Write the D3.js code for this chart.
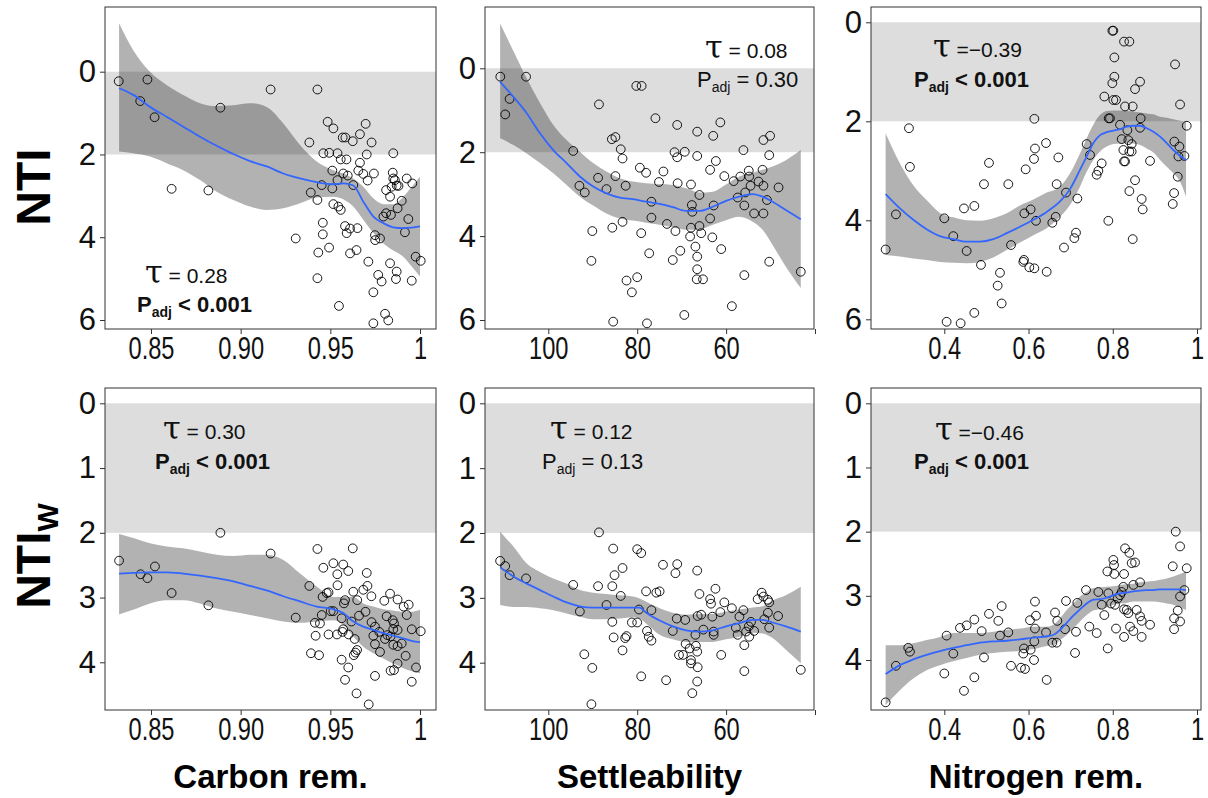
<!DOCTYPE html>
<html><head><meta charset="utf-8">
<script src="https://cdn.jsdelivr.net/npm/d3@7"></script>
<style>
body{margin:0;background:#fff;}
svg text{font-family:"Liberation Sans",Arial,sans-serif;}
</style></head><body>
<svg id="chart" width="1208" height="798"></svg>
<script>
// ---------- tick values / labels ----------
const carbonTicks = [0.85, 0.90, 0.95, 1];
const carbonTickLabels = ["0.85", "0.90", "0.95", "1"];
const settleTicks = [100, 80, 60, 40];
const settleTickLabels = ["100", "80", "60", ""];
const nitroTicks = [0.4, 0.6, 0.8, 1];
const nitroTickLabels = ["0.4", "0.6", "0.8", "1"];
const ntiTicks = [0, 2, 4, 6];
const ntiwTicks = [0, 1, 2, 3, 4];
const xTitles = ["Carbon rem.", "Settleability", "Nitrogen rem."];
const tauLabels = ["0.28", "0.08", "\u22120.39", "0.30", "0.12", "\u22120.46"];
const pLabels = ["< 0.001", "= 0.30", "< 0.001", "< 0.001", "= 0.13", "< 0.001"];
const pBold = [true, false, true, true, false, true];
const bandRange = [0, 2];

// ---------- Panel 1: NTI vs Carbon removal ----------
const carbonNTI_x = [0.832,0.848,0.844,0.852,0.8615,0.882,0.8887,0.9167,0.9428,0.9307,
0.9383,0.9485,0.9517,0.9461,0.9494,0.954,0.9558,0.959,0.9569,0.9584,
0.9625,0.9665,0.9697,0.973,0.9703,0.9665,0.9656,0.9684,0.9743,0.9708,
0.9511,0.954,0.9572,0.9597,0.9628,0.9452,0.9511,0.9391,0.9428,0.9517,
0.9545,0.9558,0.9458,0.9458,0.9582,0.961,0.9591,0.9651,0.9493,0.9433,
0.961,0.9646,0.9428,0.9548,0.9712,0.9749,0.9777,0.975,0.974,0.9767,
0.9786,0.9833,0.987,0.9866,0.9954,0.974,0.9805,0.9823,0.9796,0.9811,
0.9838,0.9851,0.9848,0.9851,0.9811,0.9842,0.987,0.988,0.9833,0.9898,
0.9875,0.9926,0.9957,0.9935,0.9916,0.9976,1.0004,0.986];
const carbonNTI_y = [0.23,0.19,0.71,1.10,2.83,2.87,0.87,0.43,0.43,4.03,
1.71,1.21,1.37,1.97,1.96,1.97,2.12,2.12,1.59,1.59,
1.68,1.51,1.26,1.71,2.0,2.2,2.39,2.47,2.46,2.63,
2.39,2.62,2.46,2.51,2.74,2.74,2.82,2.92,3.1,3.2,
3.26,3.34,3.65,3.93,3.73,3.79,3.9,3.78,4.25,4.37,
4.39,4.31,4.99,5.66,4.59,3.95,4.03,4.07,5.33,4.91,
5.07,4.63,4.83,5.01,5.05,6.08,5.85,6.01,3.5,3.42,
3.46,1.97,2.44,2.58,2.86,2.78,2.75,2.76,3.02,3.12,
3.3,2.58,2.7,3.56,3.88,4.47,4.57,2.62];
const carbonFit_x = [0.8322,0.8401,0.8494,0.8587,0.868,0.8773,0.8866,0.8959,0.9052,0.9145,0.9238,0.9331,0.9424,0.9517,0.9572,0.9628,0.9684,0.974,0.9796,0.9851,0.9907,0.9954,1.0];
const carbonNTI_fit = [0.40,0.56,0.85,1.09,1.33,1.57,1.79,1.99,2.16,2.29,2.46,2.58,2.67,2.72,2.70,2.75,3.14,3.50,3.66,3.76,3.78,3.77,3.74];
const carbonNTI_lo = [-1.17,-0.52,0,0.32,0.56,0.76,0.83,0.81,0.76,0.85,1.25,1.77,2.17,2.38,2.46,2.58,2.78,3.06,3.20,3.20,3.02,2.78,2.54];
const carbonNTI_hi = [1.93,1.97,2.05,2.21,2.38,2.62,2.90,3.10,3.26,3.34,3.30,3.18,3.04,3.02,3.08,3.26,3.58,3.90,4.15,4.32,4.47,4.71,4.95];

// ---------- Panel 2: NTI vs Settleability ----------
const settleNTI_x = [110.8,109.7,108.7,105.0,94.4,93.0,91.8,90.1,90.3,88.6,
88.8,86.9,85.7,84.9,83.7,83.3,84.9,82.6,85.6,83.3,
85.4,82.4,81.2,80.0,80.2,79.0,79.4,78.0,76.8,76.8,
79.1,77.3,77.8,75.9,75.1,74.1,73.3,72.0,71.0,71.6,
71.0,70.9,69.3,70.3,71.4,69.4,67.9,66.5,66.5,66.0,
67.7,67.6,67.9,66.0,68.1,65.6,66.9,66.5,66.5,66.6,
65.2,63.6,62.9,62.3,61.3,60.4,62.8,63.6,63.1,61.1,
58.7,58.3,57.4,56.1,56.8,55.9,55.7,54.9,54.8,54.5,
55.9,53.7,52.7,51.6,50.1,50.3,51.8,51.6,50.8,51.6,
50.3,48.2,43.2];
const settleNTI_y = [0.20,1.10,0.73,0.20,1.97,2.80,2.96,3.88,4.59,0.86,
2.61,2.88,1.69,1.64,1.93,2.15,2.57,2.80,3.80,3.66,
6.04,5.06,5.34,4.98,0.42,0.42,2.37,2.49,3.18,3.56,
3.93,4.41,6.08,1.19,2.71,2.46,3.71,4.57,1.35,2.0,
2.12,2.74,1.99,4.35,3.88,5.88,2.77,1.51,2.09,3.02,
3.26,3.42,3.80,3.76,4.01,3.93,4.25,4.49,4.79,5.03,
5.03,2.42,1.61,2.21,1.29,2.57,3.27,3.58,4.03,4.31,
5.67,2.69,3.08,1.95,2.58,3.27,2.96,2.44,2.58,2.80,
4.93,3.46,2.70,1.71,1.61,2.07,2.42,2.80,3.14,3.46,
4.61,2.84,4.85];
const settleFit_x = [110.84,107.85,104.86,101.87,98.88,95.89,92.90,89.91,86.92,83.93,80.94,77.95,74.96,71.97,68.98,65.99,63.00,60.01,57.03,54.04,51.79,49.55,46.56,43.20];
const settleNTI_fit = [0.32,0.68,1.07,1.55,1.95,2.26,2.58,2.82,2.98,3.08,3.12,3.18,3.23,3.31,3.40,3.40,3.30,3.16,3.06,3.00,3.06,3.18,3.38,3.60];
const settleNTI_lo = [-1.07,-0.41,0.24,0.83,1.35,1.71,1.99,2.26,2.46,2.62,2.70,2.74,2.76,2.78,2.86,2.96,2.94,2.77,2.58,2.49,2.42,2.34,2.19,1.95];
const settleNTI_hi = [1.67,1.83,2.03,2.26,2.50,2.78,3.06,3.27,3.46,3.58,3.63,3.68,3.73,3.79,3.85,3.84,3.73,3.62,3.54,3.66,3.85,4.21,4.73,5.24];

// ---------- Panel 3: NTI vs Nitrogen removal ----------
const nitroNTI_x = [0.2607,0.2852,0.3161,0.3184,0.400,0.4055,0.4214,0.4388,0.4467,0.453,
0.4713,0.4713,0.4871,0.4942,0.5061,0.5267,0.5322,0.5362,0.552,0.5584,
0.5876,0.5892,0.5932,0.6019,0.6138,0.59,0.605,0.6177,0.6138,0.6153,
0.613,0.6415,0.6431,0.6565,0.6645,0.6668,0.6708,0.6842,0.689,0.7088,
0.7127,0.7159,0.738,0.746,0.7618,0.7658,0.7737,0.78,0.7895,0.799,
0.8014,0.8038,0.8038,0.799,0.8014,0.8077,0.7903,0.7934,0.8173,0.8292,
0.8268,0.8394,0.8473,0.8529,0.8648,0.8663,0.8648,0.8212,0.8347,0.837,
0.8449,0.8252,0.8394,0.8449,0.8268,0.8292,0.8885,0.8529,0.8394,0.8686,
0.871,0.8473,0.9479,0.9598,0.9756,0.9463,0.9582,0.9559,0.9701,0.9543,
0.9456,0.9424];
const nitroNTI_y = [4.59,3.88,2.14,2.92,3.96,6.05,4.32,6.08,3.76,4.62,
3.71,5.87,4.90,3.27,2.84,5.32,5.06,5.68,3.27,4.50,
4.84,4.80,2.97,4.95,4.97,3.86,3.78,4.01,1.95,2.55,
2.76,2.44,5.04,4.05,3.93,3.27,2.73,4.55,3.44,4.36,
4.25,3.56,2.46,2.68,3.08,3.00,2.85,1.50,4.01,0.17,
0.17,0.71,1.10,1.23,1.57,1.57,1.94,1.94,2.07,1.70,
0.39,0.39,1.70,1.35,1.20,1.94,2.13,2.36,2.18,2.38,
2.46,2.58,2.61,2.61,2.81,2.81,2.80,3.19,3.41,3.57,
3.78,4.38,0.85,1.66,2.09,2.41,2.51,2.71,2.70,3.12,
3.45,3.67];
const nitroFitA_x = [0.2607,0.2947,0.3264,0.3580,0.3897,0.4214,0.4530,0.4847,0.5164,0.5481,0.5797,0.6114,0.6431,0.6747,0.6985,0.7222,0.7381,0.7539,0.7698,0.7856,0.8014,0.8173,0.8331,0.8489,0.8648,0.8806,0.8964,0.9123,0.9281,0.9439,0.9598,0.9740];
const nitroNTI_fit = [3.47,3.76,3.99,4.18,4.32,4.38,4.43,4.43,4.38,4.26,4.13,3.99,3.83,3.62,3.37,2.98,2.71,2.44,2.28,2.22,2.19,2.16,2.11,2.09,2.09,2.14,2.21,2.31,2.44,2.58,2.70,2.78];
const nitroNTI_lo = [2.24,2.85,3.29,3.59,3.85,3.94,4.00,4.01,3.96,3.86,3.70,3.58,3.44,3.32,3.05,2.65,2.34,2.07,1.87,1.79,1.78,1.78,1.79,1.80,1.82,1.84,1.86,1.91,1.93,1.96,1.99,2.01];
const nitroNTI_hi = [4.70,4.73,4.77,4.80,4.84,4.86,4.87,4.84,4.75,4.60,4.45,4.30,4.16,3.93,3.69,3.32,3.02,2.78,2.61,2.51,2.46,2.45,2.44,2.45,2.48,2.55,2.63,2.78,2.92,3.05,3.22,3.52];

// ---------- Panel 4: NTIw vs Carbon removal ----------
const carbonNTIw_x = [0.8322,0.8442,0.848,0.8522,0.8615,0.882,0.8887,0.9167,0.9307,0.9383,
0.9428,0.9461,0.9517,0.9572,0.96,0.9539,0.954,0.9625,0.9703,0.9707,
0.9684,0.9729,0.9628,0.965,0.9582,0.9576,0.948,0.949,0.9457,0.9502,
0.9517,0.9452,0.9414,0.9442,0.9563,0.9618,0.9696,0.966,0.9572,0.9568,
0.9418,0.949,0.9537,0.9602,0.9636,0.9649,0.964,0.9631,0.9392,0.9437,
0.9563,0.96,0.9582,0.9646,0.9714,0.9749,0.973,0.9749,0.9773,0.974,
0.9749,0.9777,0.9805,0.9814,0.9833,0.9801,0.9848,0.9855,0.9851,0.9836,
0.9818,0.9875,0.9875,0.9851,0.9875,0.9898,0.992,0.9875,0.9836,0.9855,
0.9909,0.9937,0.9926,0.9954,1.0004,0.9978,0.9954];
const carbonNTIw_y = [2.43,2.64,2.70,2.52,2.93,3.12,2.00,2.32,3.31,2.82,
2.25,2.54,2.47,2.49,2.59,2.64,2.81,2.24,2.62,2.82,
2.88,2.98,2.91,3.04,3.04,3.09,2.93,2.92,2.99,3.21,
3.21,3.27,3.39,3.40,3.32,3.37,3.22,3.28,3.49,3.53,
3.59,3.57,3.57,3.57,3.64,3.81,3.85,3.89,3.86,3.89,
3.96,4.08,4.27,4.48,4.65,4.21,3.38,3.45,3.53,3.59,
3.72,3.84,3.64,3.29,2.94,3.05,3.35,3.40,3.49,3.60,
3.58,3.03,3.50,3.73,3.75,3.71,3.90,4.02,4.13,4.12,
3.14,3.11,3.27,3.49,3.52,4.08,4.30];
const carbonNTIw_fit = [2.63,2.62,2.61,2.61,2.63,2.66,2.70,2.75,2.82,2.89,2.98,3.06,3.14,3.18,3.24,3.37,3.45,3.50,3.55,3.59,3.63,3.67,3.69];
const carbonNTIw_lo = [2.02,2.08,2.16,2.21,2.24,2.29,2.34,2.36,2.34,2.34,2.42,2.63,2.83,2.99,2.99,2.99,3.09,3.14,3.18,3.20,3.22,3.22,3.19];
const carbonNTIw_hi = [3.26,3.19,3.09,3.04,3.04,3.09,3.17,3.22,3.27,3.32,3.37,3.39,3.37,3.35,3.42,3.60,3.76,3.86,3.94,4.02,4.09,4.14,4.17];

// ---------- Panel 5: NTIw vs Settleability ----------
const settleNTIw_x = [110.84,109.7,108.7,105.0,94.4,92.9,91.9,90.1,90.3,88.6,
88.8,86.9,85.4,85.1,83.3,85.6,83.7,85.6,85.3,82.7,
82.4,83.3,81.2,80.0,79.1,79.6,80.0,78.0,77.8,77.4,
76.8,76.8,79.1,75.7,74.96,74.2,73.5,72.0,71.4,71.0,
71.1,70.6,69.7,69.2,69.1,68.2,67.9,67.9,67.6,66.9,
66.8,66.5,66.4,66.5,66.5,66.4,66.0,65.6,65.1,63.6,
63.4,63.1,62.8,62.8,62.4,61.3,61.1,60.4,58.7,57.8,
57.4,57.0,56.1,55.9,55.9,55.5,54.9,54.8,54.4,53.7,
52.9,52.0,51.6,51.4,50.6,50.3,50.6,50.3,48.3,43.2];
const settleNTIw_y = [2.43,2.51,2.65,2.70,2.80,3.21,3.87,4.08,4.64,1.99,
2.82,3.11,2.24,2.65,2.54,2.82,2.97,3.37,3.61,3.62,
3.59,3.81,3.38,2.25,2.31,3.18,3.38,2.90,3.51,3.60,
3.66,3.19,4.21,2.92,2.90,2.49,4.27,3.51,2.62,2.48,
3.32,3.88,3.88,3.34,3.71,3.78,3.96,4.01,4.47,3.57,
3.74,3.83,4.07,4.29,2.58,3.28,2.94,3.26,3.49,3.02,
3.09,3.29,3.52,3.57,2.86,3.22,3.88,3.07,3.16,3.46,
3.57,3.29,3.19,3.73,4.13,3.52,3.44,3.60,3.37,3.51,
3.02,2.92,2.98,3.33,3.03,3.07,3.23,3.46,3.28,4.11];
const settleFitB_x = [110.84,107.85,104.86,101.87,98.88,95.89,92.90,89.91,86.92,83.93,80.94,79.45,77.95,74.96,71.97,68.98,65.99,63.00,60.01,57.03,54.04,51.79,49.55,46.56,43.20];
const settleNTIw_fit = [2.53,2.67,2.78,2.88,2.98,3.07,3.13,3.15,3.15,3.15,3.15,3.15,3.23,3.35,3.44,3.50,3.52,3.50,3.44,3.39,3.34,3.34,3.38,3.44,3.52];
const settleNTIw_lo = [1.98,2.21,2.47,2.60,2.70,2.78,2.88,2.92,2.94,2.96,2.98,3.01,3.06,3.16,3.23,3.26,3.25,3.25,3.21,3.18,3.15,3.13,3.04,2.96,2.83];
const settleNTIw_hi = [3.11,3.14,3.14,3.16,3.19,3.24,3.29,3.33,3.33,3.32,3.30,3.32,3.40,3.57,3.64,3.68,3.68,3.68,3.64,3.60,3.54,3.55,3.62,3.80,4.01];

// ---------- Panel 6: NTIw vs Nitrogen removal ----------
const nitroNTIw_x = [0.2607,0.2852,0.3145,0.3184,0.40,0.4055,0.4214,0.4372,0.4467,0.453,
0.4713,0.4713,0.4887,0.4942,0.5061,0.5283,0.5362,0.5322,0.552,0.5584,
0.5821,0.5916,0.5892,0.5876,0.6035,0.605,0.613,0.6153,0.6177,0.6153,
0.6138,0.6415,0.6431,0.6629,0.6684,0.6565,0.6668,0.6866,0.689,0.7104,
0.7127,0.7159,0.7365,0.7444,0.7618,0.7658,0.7737,0.78,0.7872,0.788,
0.7895,0.8014,0.803,0.8038,0.8077,0.7959,0.8053,0.8117,0.8173,0.8212,
0.8252,0.8268,0.8268,0.8292,0.8394,0.8331,0.8268,0.837,0.8449,0.8529,
0.8489,0.8648,0.8568,0.841,0.8489,0.8648,0.8686,0.8686,0.8885,0.9424,
0.9495,0.9598,0.9756,0.9701,0.9598,0.9543,0.9456,0.9598,0.9456];
const nitroNTIw_y = [4.66,4.09,3.81,3.87,4.21,3.62,3.90,3.50,4.48,3.46,
3.37,4.27,3.55,3.96,3.28,3.39,3.16,3.62,3.57,4.09,
4.12,4.14,3.82,3.90,3.38,3.84,4.00,3.09,3.31,3.51,
3.71,3.57,4.31,3.26,3.39,3.73,3.73,3.52,3.08,3.89,
3.56,3.11,2.91,3.48,3.58,2.94,3.14,3.30,2.62,3.82,
2.96,2.44,2.52,2.66,3.51,3.12,3.14,3.04,2.99,2.94,
2.86,2.66,3.21,2.26,2.33,3.22,3.64,3.27,2.49,2.48,
2.83,2.79,3.22,3.48,3.55,3.32,3.39,3.64,3.45,2.54,
2.00,2.23,2.57,2.91,3.01,3.23,3.35,3.40,3.52];
const nitroFitB_x = [0.2607,0.2947,0.3264,0.3580,0.3897,0.4214,0.4530,0.4847,0.5164,0.5481,0.5797,0.6114,0.6431,0.6589,0.6747,0.6906,0.7064,0.7222,0.7381,0.7539,0.7698,0.7856,0.8014,0.8173,0.8331,0.8489,0.8648,0.8806,0.8964,0.9123,0.9281,0.9439,0.9598,0.9740];
const nitroNTIw_fit = [4.22,4.08,3.99,3.92,3.86,3.81,3.77,3.73,3.71,3.70,3.68,3.65,3.63,3.61,3.53,3.42,3.31,3.21,3.12,3.06,3.05,3.03,2.99,2.96,2.95,2.93,2.92,2.91,2.91,2.90,2.90,2.90,2.90,2.91];
const nitroNTIw_lo = [3.77,3.77,3.74,3.69,3.64,3.58,3.58,3.58,3.56,3.53,3.51,3.48,3.48,3.45,3.35,3.22,3.12,3.01,2.94,2.88,2.87,2.86,2.85,2.83,2.82,2.81,2.79,2.78,2.77,2.75,2.73,2.70,2.66,2.62];
const nitroNTIw_hi = [4.70,4.47,4.29,4.16,4.08,4.02,3.97,3.92,3.89,3.87,3.86,3.83,3.78,3.77,3.69,3.61,3.51,3.40,3.30,3.23,3.21,3.18,3.14,3.12,3.11,3.09,3.09,3.09,3.09,3.10,3.12,3.14,3.18,3.22];

// ---------- layout ----------
const svg = d3.select("#chart");
const cols = [{x0:105, x1:436}, {x0:485, x1:814}, {x0:871, x1:1201}];
const rows = [{y0:7, y1:329}, {y0:388, y1:710}];
const xScales = [
  d3.scaleLinear().domain([0.85, 1]).range([151, 420]),
  d3.scaleLinear().domain([100, 40]).range([548.3, 815]),
  d3.scaleLinear().domain([0.4, 1]).range([944.3, 1197])
];
const xTickSets = [carbonTicks, settleTicks, nitroTicks];
const xTickLabelSets = [carbonTickLabels, settleTickLabels, nitroTickLabels];

const panels = [
  {c:0, r:0, y:d3.scaleLinear().domain([0,6]).range([71.7,320]), yt:ntiTicks,
   px:carbonNTI_x, py:carbonNTI_y, fx:carbonFit_x, fy:carbonNTI_fit, lo:carbonNTI_lo, hi:carbonNTI_hi,
   tx:145, ty:283, ppx:137, ppy:312},
  {c:1, r:0, y:d3.scaleLinear().domain([0,6]).range([68.3,320]), yt:ntiTicks,
   px:settleNTI_x, py:settleNTI_y, fx:settleFit_x, fy:settleNTI_fit, lo:settleNTI_lo, hi:settleNTI_hi,
   tx:705, ty:58, ppx:697, ppy:87},
  {c:2, r:0, y:d3.scaleLinear().domain([0,6]).range([22.3,319.3]), yt:ntiTicks,
   px:nitroNTI_x, py:nitroNTI_y, fx:nitroFitA_x, fy:nitroNTI_fit, lo:nitroNTI_lo, hi:nitroNTI_hi,
   tx:933, ty:57, ppx:914, ppy:87},
  {c:0, r:1, y:d3.scaleLinear().domain([0,4]).range([403.3,662.3]), yt:ntiwTicks,
   px:carbonNTIw_x, py:carbonNTIw_y, fx:carbonFit_x, fy:carbonNTIw_fit, lo:carbonNTIw_lo, hi:carbonNTIw_hi,
   tx:163, ty:439, ppx:155, ppy:469},
  {c:1, r:1, y:d3.scaleLinear().domain([0,4]).range([403.3,662.7]), yt:ntiwTicks,
   px:settleNTIw_x, py:settleNTIw_y, fx:settleFitB_x, fy:settleNTIw_fit, lo:settleNTIw_lo, hi:settleNTIw_hi,
   tx:550, ty:439, ppx:542, ppy:469},
  {c:2, r:1, y:d3.scaleLinear().domain([0,4]).range([403.3,660]), yt:ntiwTicks,
   px:nitroNTIw_x, py:nitroNTIw_y, fx:nitroFitB_x, fy:nitroNTIw_fit, lo:nitroNTIw_lo, hi:nitroNTIw_hi,
   tx:935, ty:440, ppx:914, ppy:469}
];

const defs = svg.append("defs");
const FONT = '"Liberation Sans", Arial, sans-serif';

panels.forEach((p, i) => {
  const col = cols[p.c], row = rows[p.r];
  const x = xScales[p.c], y = p.y;
  const g = svg.append("g");
  const clipId = "clip" + i;
  defs.append("clipPath").attr("id", clipId).append("rect")
    .attr("x", col.x0).attr("y", row.y0)
    .attr("width", col.x1 - col.x0).attr("height", row.y1 - row.y0);
  const inner = g.append("g").attr("clip-path", `url(#${clipId})`);

  // reference band 0..2
  inner.append("rect")
    .attr("x", col.x0).attr("width", col.x1 - col.x0)
    .attr("y", y(bandRange[0])).attr("height", y(bandRange[1]) - y(bandRange[0]))
    .attr("fill", "#dddddd");

  // confidence ribbon
  const idx = d3.range(p.fx.length);
  const area = d3.area()
    .x(k => x(p.fx[k])).y0(k => y(p.lo[k])).y1(k => y(p.hi[k]))
    .curve(d3.curveMonotoneX);
  inner.append("path").attr("d", area(idx))
    .attr("fill", "#000").attr("fill-opacity", 0.3);

  // points
  inner.selectAll("circle.pt").data(d3.range(p.px.length)).join("circle")
    .attr("class", "pt")
    .attr("cx", k => x(p.px[k])).attr("cy", k => y(p.py[k])).attr("r", 4.4)
    .attr("fill", "none").attr("stroke", "#000").attr("stroke-width", 0.9);

  // smooth line
  const line = d3.line().x(k => x(p.fx[k])).y(k => y(p.fy[k])).curve(d3.curveMonotoneX);
  inner.append("path").attr("d", line(idx))
    .attr("fill", "none").attr("stroke", "#3366ff").attr("stroke-width", 1.8);

  // box
  g.append("rect").attr("x", col.x0).attr("y", row.y0)
    .attr("width", col.x1 - col.x0).attr("height", row.y1 - row.y0)
    .attr("fill", "none").attr("stroke", "#333").attr("stroke-width", 1);

  // y axis
  const ya = g.append("g").attr("transform", `translate(${col.x0},0)`)
    .call(d3.axisLeft(y).tickValues(p.yt).tickFormat(d3.format("d")).tickSize(5).tickPadding(4));
  ya.select(".domain").remove();
  ya.selectAll("line").attr("stroke", "#333");
  ya.selectAll("text").attr("font-size", 31).attr("fill", "#111").style("font-family", FONT);

  // x axis (condensed labels)
  const labs = xTickLabelSets[p.c];
  const xa = g.append("g").attr("transform", `translate(0,${row.y1})`)
    .call(d3.axisBottom(x).tickValues(xTickSets[p.c]).tickFormat((d, j) => labs[j]).tickSize(5).tickPadding(2));
  xa.select(".domain").remove();
  xa.selectAll("line").attr("stroke", "#333");
  xa.selectAll("text").attr("font-size", 32).attr("fill", "#111").style("font-family", FONT)
    .attr("transform", "scale(0.74,1)");

  // statistics annotation
  const t1 = g.append("text").attr("x", p.tx).attr("y", p.ty).attr("fill", "#111");
  t1.append("tspan").text("\u03C4").attr("font-size", 32)
    .style("font-family", '"DejaVu Serif", "Liberation Serif", serif').attr("font-weight", "normal");
  t1.append("tspan").text(p.c === 2 ? " =" : " = ").attr("font-size", 21);
  t1.append("tspan").text(tauLabels[i]).attr("font-size", 21);

  const t2 = g.append("text").attr("x", p.ppx).attr("y", p.ppy).attr("fill", "#111")
    .attr("font-weight", pBold[i] ? "bold" : "normal");
  t2.append("tspan").text("P").attr("font-size", 22);
  t2.append("tspan").text("adj").attr("font-size", 14).attr("dy", 5);
  t2.append("tspan").text(" " + pLabels[i]).attr("font-size", 22).attr("dy", -5);
});

// x axis titles
cols.forEach((col, j) => {
  svg.append("text").attr("x", (col.x0 + col.x1) / 2).attr("y", 788)
    .attr("text-anchor", "middle").attr("font-size", 33).attr("font-weight", "bold")
    .attr("fill", "#000").text(xTitles[j]);
});

// row titles
svg.append("text").attr("transform", "translate(50,187) rotate(-90)")
  .attr("text-anchor", "middle").attr("font-size", 48).attr("font-weight", "bold")
  .attr("fill", "#000").text("NTI");
const rt = svg.append("text").attr("transform", "translate(50,556) rotate(-90)")
  .attr("text-anchor", "middle").attr("font-size", 48).attr("font-weight", "bold").attr("fill", "#000");
rt.append("tspan").text("NTI");
rt.append("tspan").text("W").attr("font-size", 30).attr("dy", 8);
</script>
</body></html>
